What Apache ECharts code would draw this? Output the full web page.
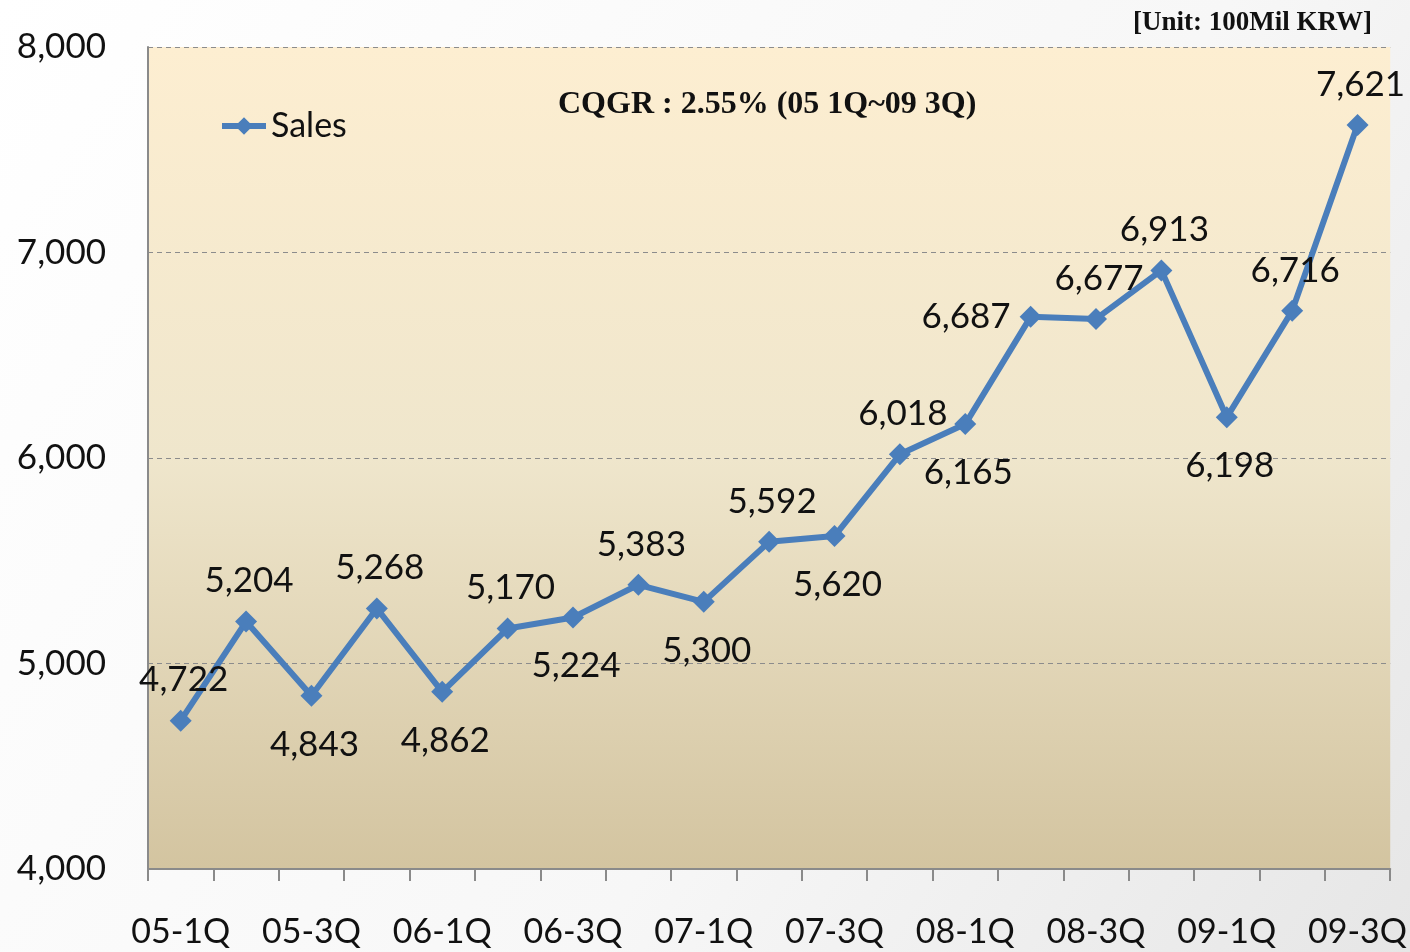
<!DOCTYPE html>
<html>
<head>
<meta charset="utf-8">
<script src="https://cdn.jsdelivr.net/npm/echarts@6/dist/echarts.min.js"></script>
<style>
  html, body { margin: 0; padding: 0; background: #ffffff; }
  #chart { width: 1410px; height: 952px; }
</style>
</head>
<body>
<div id="chart"></div>
<script>
// quarters and sales (unit: 100Mil KRW)
const quarters = [
  "05-1Q", "05-2Q", "05-3Q", "05-4Q", "06-1Q", "06-2Q", "06-3Q", "06-4Q",
  "07-1Q", "07-2Q", "07-3Q", "07-4Q", "08-1Q", "08-2Q", "08-3Q", "08-4Q",
  "09-1Q", "09-2Q", "09-3Q"
];
const sales = [
  4722, 5204, 4843, 5268, 4862, 5170, 5224, 5383, 5300, 5592,
  5620, 6018, 6165, 6687, 6677, 6913, 6198, 6716, 7621
];
const yTicks = { min: 4000, max: 8000, step: 1000 };
const chartTitle = "CQGR : 2.55% (05 1Q~09 3Q)";
const unitText = "[Unit: 100Mil KRW]";

// where each value label sits
const labelSide = [
  "top", "top", "bottom", "top", "bottom", "top", "bottom", "top", "bottom", "top",
  "bottom", "top", "bottom", "left", "top", "top", "bottom", "top", "top"
];
const sideGap = { top: 12, bottom: 20, left: 12 };

const fmt = (v) => v.toLocaleString("en-US");

const chart = echarts.init(document.getElementById("chart"));

const option = {
  backgroundColor: new echarts.graphic.LinearGradient(0, 0, 1, 1, [
    { offset: 0, color: "#ffffff" },
    { offset: 0.6, color: "#f7f7f7" },
    { offset: 1, color: "#e6e6e6" },
  ]),
  animation: false,
  textStyle: { fontFamily: "Lato" },
  title: [
    {
      text: chartTitle,
      left: 553,
      top: 84,
      textStyle: {
        fontFamily: "Liberation Serif",
        fontWeight: "bold",
        fontSize: 32,
        color: "#111",
      },
    },
    {
      text: unitText,
      right: 33,
      top: 5,
      textStyle: {
        fontFamily: "Liberation Serif",
        fontWeight: "bold",
        fontSize: 27,
        color: "#111",
      },
    },
  ],
  legend: {
    left: 214,
    top: 104,
    itemWidth: 44,
    itemHeight: 22,
    itemGap: 4,
    lineStyle: { width: 6 },
    textStyle: { fontSize: 34, color: "#111", fontFamily: "Lato" },
    data: ["Sales"],
  },
  grid: {
    left: 148,
    right: 18,
    top: 47,
    bottom: 83,
    show: true,
    borderWidth: 0,
    backgroundColor: new echarts.graphic.LinearGradient(0, 0, 0, 1, [
      { offset: 0, color: "#fdeed1" },
      { offset: 0.5, color: "#efe6cc" },
      { offset: 1, color: "#d3c4a0" },
    ]),
  },
  xAxis: {
    type: "category",
    data: quarters,
    boundaryGap: true,
    axisLine: { lineStyle: { color: "#8a8a8a", width: 2 } },
    axisTick: { show: true, interval: 0, length: 12, lineStyle: { color: "#8a8a8a", width: 2 } },
    axisLabel: {
      interval: 1,
      margin: 46,
      fontSize: 34,
      color: "#111",
      fontFamily: "Lato",
    },
  },
  yAxis: {
    type: "value",
    min: yTicks.min,
    max: yTicks.max,
    interval: yTicks.step,
    axisLine: { show: true, lineStyle: { color: "#8a8a8a", width: 2 } },
    axisTick: { show: false },
    axisLabel: {
      margin: 42,
      fontSize: 35,
      color: "#111",
      fontFamily: "Lato",
      formatter: fmt,
    },
    splitLine: {
      show: true,
      lineStyle: { color: "#8c8c8c", type: [5, 4], width: 1.2 },
    },
  },
  series: [
    {
      name: "Sales",
      type: "line",
      data: sales.map((v, i) => ({
        value: v,
        label: { position: labelSide[i], distance: sideGap[labelSide[i]] },
      })),
      symbol: "diamond",
      symbolSize: 22,
      lineStyle: { color: "#4a7ebb", width: 6 },
      itemStyle: { color: "#4a7ebb" },
      label: {
        show: true,
        fontSize: 35,
        color: "#111",
        fontFamily: "Lato",
        offset: [3, 0],
        formatter: (p) => fmt(p.value),
      },
      z: 3,
    },
  ],
};

chart.setOption(option);
</script>
</body>
</html>
